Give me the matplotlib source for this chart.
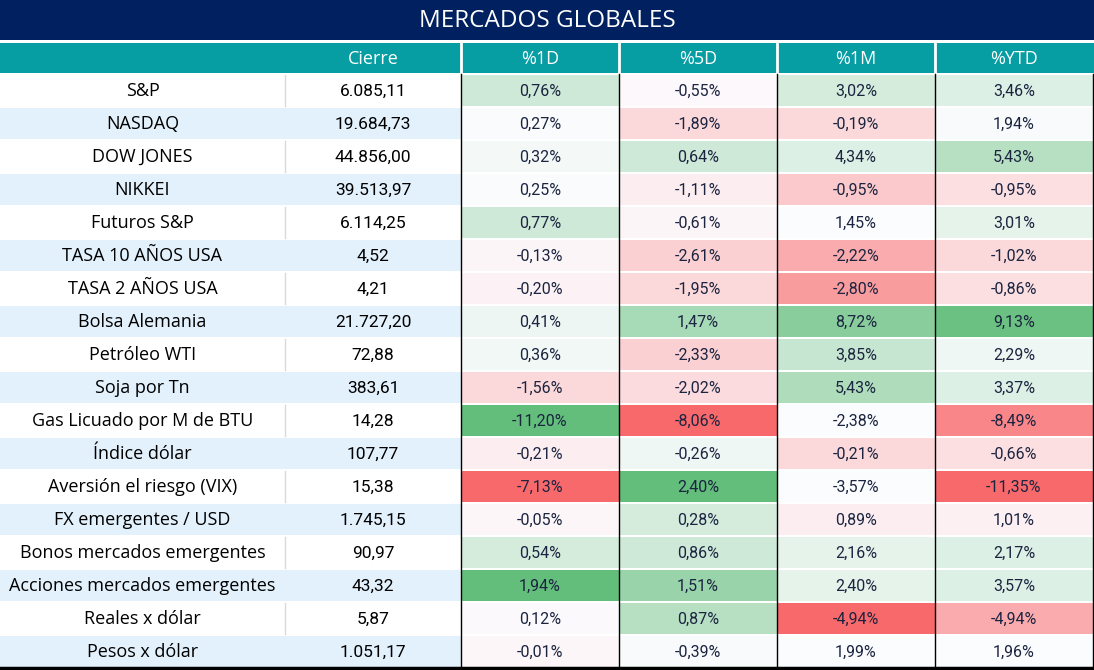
import numpy as np
import matplotlib.pyplot as plt
from matplotlib.patches import Rectangle
from matplotlib.colors import LinearSegmentedColormap

names = ['S&P', 'NASDAQ', 'DOW JONES', 'NIKKEI', 'Futuros S&P', 'TASA 10 AÑOS USA',
         'TASA 2 AÑOS USA', 'Bolsa Alemania', 'Petróleo WTI', 'Soja por Tn',
         'Gas Licuado por M de BTU', 'Índice dólar', 'Aversión el riesgo (VIX)',
         'FX emergentes / USD', 'Bonos mercados emergentes', 'Acciones mercados emergentes',
         'Reales x dólar', 'Pesos x dólar']
cierre = ['6.085,11', '19.684,73', '44.856,00', '39.513,97', '6.114,25', '4,52', '4,21',
          '21.727,20', '72,88', '383,61', '14,28', '107,77', '15,38', '1.745,15', '90,97',
          '43,32', '5,87', '1.051,17']
headers = ['', 'Cierre', '%1D', '%5D', '%1M', '%YTD']
pct_1d = ['0,76%', '0,27%', '0,32%', '0,25%', '0,77%', '-0,13%', '-0,20%', '0,41%', '0,36%',
          '-1,56%', '-11,20%', '-0,21%', '-7,13%', '-0,05%', '0,54%', '1,94%', '0,12%', '-0,01%']
pct_5d = ['-0,55%', '-1,89%', '0,64%', '-1,11%', '-0,61%', '-2,61%', '-1,95%', '1,47%', '-2,33%',
          '-2,02%', '-8,06%', '-0,26%', '2,40%', '0,28%', '0,86%', '1,51%', '0,87%', '-0,39%']
pct_1m = ['3,02%', '-0,19%', '4,34%', '-0,95%', '1,45%', '-2,22%', '-2,80%', '8,72%', '3,85%',
          '5,43%', '-2,38%', '-0,21%', '-3,57%', '0,89%', '2,16%', '2,40%', '-4,94%', '1,99%']
pct_ytd = ['3,46%', '1,94%', '5,43%', '-0,95%', '3,01%', '-1,02%', '-0,86%', '9,13%', '2,29%',
           '3,37%', '-8,49%', '-0,66%', '-11,35%', '1,01%', '2,17%', '3,57%', '-4,94%', '1,96%']
# colour-scale score of each cell as seen in the picture (-1 red .. +1 green)
score_1d = [0.3, 0.02, 0.05, 0.02, 0.3, -0.05, -0.07, 0.1, 0.07, -0.25, 1.0, -0.1, -1.0, -0.04, 0.25, 1.0, -0.02, -0.04]
score_5d = [-0.03, -0.25, 0.3, -0.1, -0.05, -0.3, -0.25, 0.55, -0.3, -0.22, -1.0, 0.08, 1.0, 0.25, 0.3, 0.65, 0.45, 0.03]
score_1m = [0.25, -0.25, 0.2, -0.35, 0.0, -0.55, -0.65, 0.75, 0.35, 0.5, 0.0, -0.25, 0.0, -0.1, 0.15, 0.15, -1.0, 0.0]
score_ytd = [0.2, 0.03, 0.45, -0.2, 0.15, -0.25, -0.2, 0.95, 0.08, 0.2, -0.8, -0.2, -1.0, -0.08, 0.2, 0.2, -0.55, 0.0]

cmap = LinearSegmentedColormap.from_list('xl', ['#f8696b', '#fcfcff', '#63be7b'])

W, H = 1094, 670
fig = plt.figure(figsize=(W / 100, H / 100), dpi=100)
ax = fig.add_axes([0, 0, 1, 1])
ax.set_xlim(0, W)
ax.set_ylim(H, 0)
ax.axis('off')

name_font = 'Open Sans'
num_font = 'Roboto'
navy = '#012060'
teal = '#069da3'

col_x = [0, 285, 461, 619, 777, 935, 1093]
top = 74
rh = 33

# title bar
ax.add_patch(Rectangle((0, 0), W, 40, color=navy, lw=0))
ax.text(W / 2, 27, 'MERCADOS GLOBALES', color='white', fontsize=17.5, ha='center', va='baseline',
        family=name_font)
# header
ax.add_patch(Rectangle((0, 43), W, 30, color=teal, lw=0))
for j, h in enumerate(headers):
    if h:
        ax.text((col_x[j] + col_x[j + 1]) / 2, 64, h, color='white', fontsize=13,
                ha='center', va='baseline', family=name_font)
    if j >= 2:
        ax.plot([col_x[j], col_x[j]], [43, 73], color='white', lw=2)

pct_cols = [pct_1d, pct_5d, pct_1m, pct_ytd]
score_cols = [score_1d, score_5d, score_1m, score_ytd]
for i in range(len(names)):
    y0 = top + i * rh
    bg = '#e3f1fc' if i % 2 == 1 else 'white'
    ax.add_patch(Rectangle((0, y0 + 1), col_x[2], rh - 2, color=bg, lw=0))
    if i % 2 == 0:
        ax.plot([col_x[1], col_x[1]], [y0 + 1, y0 + rh - 1], color='#d9d9d9', lw=1)
    yb = y0 + rh / 2 + 5.5
    ax.text((col_x[0] + col_x[1]) / 2, yb, names[i], fontsize=13, ha='center', va='baseline',
            family=name_font, color='black')
    ax.text((col_x[1] + col_x[2]) / 2, yb, cierre[i], fontsize=12.5, ha='center', va='baseline',
            family=num_font, color='black')
    for k in range(4):
        x0 = col_x[k + 2]
        ax.add_patch(Rectangle((x0, y0 + 1), col_x[k + 3] - x0, rh - 2,
                               color=cmap((score_cols[k][i] + 1) / 2), lw=0))
        ax.text((x0 + col_x[k + 3]) / 2, yb, pct_cols[k][i], fontsize=11.5, ha='center',
                va='baseline', family=num_font, color='#1b2440')

grid_bottom = top + len(names) * rh
for j in range(2, 6):
    ax.plot([col_x[j], col_x[j]], [top, grid_bottom], color='black', lw=1)
ax.plot([0, W], [grid_bottom, grid_bottom], color='black', lw=2.5)
ax.plot([col_x[6], col_x[6]], [top, grid_bottom], color='black', lw=1)

fig.savefig('out.png', dpi=100)
